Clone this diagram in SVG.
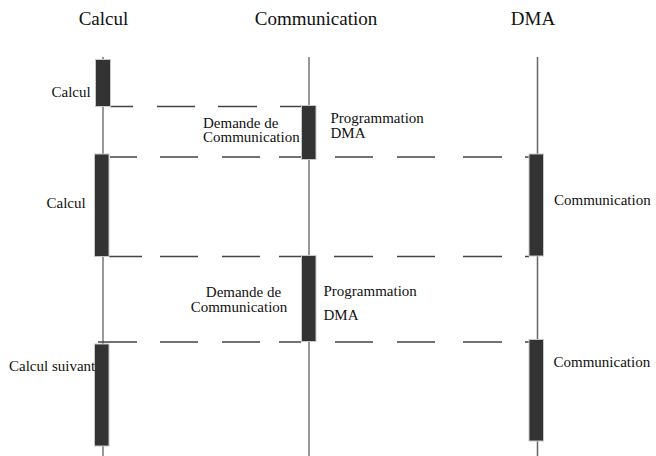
<svg xmlns="http://www.w3.org/2000/svg" width="656" height="456" viewBox="0 0 656 456">
<style>
.bg{fill:#ffffff}
.head{font-size:19px;fill:#111;text-anchor:middle}
.lbl{font-size:15px;fill:#111}
.life{stroke:#333;stroke-width:1;fill:none}
.life2{stroke:#666;stroke-width:1.5;fill:none}
.bar{fill:#333;stroke:#c8c8c8;stroke-width:1}
.dash{stroke:#444;stroke-width:1.3;fill:none}
</style>
<rect class="bg" x="0" y="0" width="656" height="456"/>
<g font-family="'Liberation Serif', 'Times New Roman', 'DejaVu Serif', serif">
<g id="lifeline-calcul">
<text class="head" x="103.5" y="24.5">Calcul</text>
<line class="life" x1="103" y1="57" x2="103" y2="456"/>
</g>
<g id="lifeline-communication">
<text class="head" x="316" y="24.5">Communication</text>
<line class="life" x1="309" y1="57" x2="309" y2="456"/>
</g>
<g id="lifeline-dma">
<text class="head" x="533" y="24.5">DMA</text>
<line class="life2" x1="537.5" y1="57" x2="537.5" y2="456"/>
</g>
<g id="connectors">
<path class="dash" d="M110 106.5H133M157 106.5H195M218 106.5H257M280 106.5H301"/>
<path class="dash" d="M110 157H137M160 157H198M222 157H260M279 157H301M335 157H373M397 157H435M463 157H502M525 157H529"/>
<path class="dash" d="M109 256.5H142M160 256.5H198M222 256.5H260M279 256.5H301M334 256.5H373M397 256.5H435M463 256.5H502M525 256.5H529"/>
<path class="dash" d="M98 342H137M160 342H198M222 342H260M279 342H301M335 342H373M397 342H435M463 342H502M525 342H529"/>
</g>
<g id="label-calcul-1"><text class="lbl" x="51.5" y="96.5">Calcul</text></g>
<g id="label-demande-1"><text class="lbl" x="203" y="127.5">Demande de</text><text class="lbl" x="203" y="142">Communication</text></g>
<g id="label-prog-1"><text class="lbl" x="330.5" y="123">Programmation</text><text class="lbl" x="330.5" y="137.5">DMA</text></g>
<g id="label-calcul-2"><text class="lbl" x="46.5" y="208">Calcul</text></g>
<g id="label-comm-1"><text class="lbl" x="554" y="204.5">Communication</text></g>
<g id="label-demande-2"><text class="lbl" x="243.5" y="296.5" text-anchor="middle">Demande de</text><text class="lbl" x="239" y="311.5" text-anchor="middle">Communication</text></g>
<g id="label-prog-2"><text class="lbl" x="323.5" y="296">Programmation</text><text class="lbl" x="323.5" y="320">DMA</text></g>
<g id="label-comm-2"><text class="lbl" x="553.5" y="367">Communication</text></g>
<g id="bar-calcul-1"><rect class="bar" x="95.5" y="59.5" width="15" height="47"/></g>
<g id="bar-comm-1"><rect class="bar" x="301.5" y="105.5" width="14.5" height="54"/></g>
<g id="bar-calcul-2"><rect class="bar" x="94.5" y="154" width="14.5" height="102.5"/></g>
<g id="bar-dma-1"><rect class="bar" x="529" y="154" width="14.5" height="102"/></g>
<g id="bar-comm-2"><rect class="bar" x="301.5" y="255.5" width="14.5" height="86"/></g>
<g id="bar-calcul-3"><rect class="bar" x="94.5" y="344" width="14.5" height="102"/></g>
<g id="bar-dma-2"><rect class="bar" x="529" y="339.5" width="14.5" height="101.5"/></g>
<g id="label-calcul-suivant"><text class="lbl" x="9" y="371">Calcul suivant</text></g>
</g>
</svg>
